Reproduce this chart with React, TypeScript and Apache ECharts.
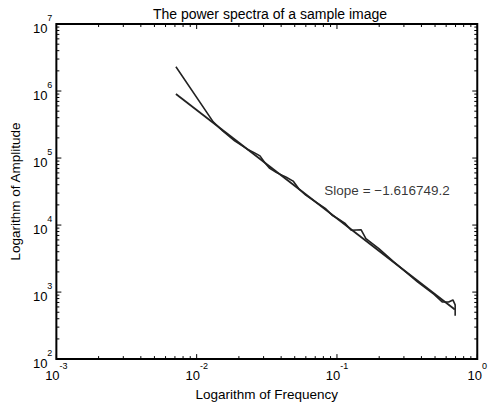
import React, { useEffect, useRef } from "react";
import * as echarts from "echarts";

// Spectrum (frequency, amplitude)
const FREQ = [0.007114, 0.01312, 0.0154, 0.01866, 0.02297, 0.02569, 0.02827, 0.03062, 0.03318, 0.03711, 0.04355, 0.0487, 0.0536, 0.05995, 0.07035, 0.08254, 0.09232, 0.1016, 0.1136, 0.1265, 0.1484, 0.1608, 0.1989, 0.2528, 0.3212, 0.3771, 0.4925, 0.5623, 0.6258, 0.6706, 0.6958, 0.6958];
const AMP = [2.307e6, 3.465e5, 2.512e5, 1.809e5, 1.356e5, 1.204e5, 1.077e5, 8.53e4, 7.01e4, 6.06e4, 5.18e4, 4.53e4, 3.454e4, 2.79e4, 2.224e4, 1.778e4, 1.403e4, 1.246e4, 1.07e4, 8357, 8530, 6290, 4440, 2857, 1871, 1403, 925, 713, 713, 763, 644, 444];

// Fitted straight line
const FIT_FREQ = [0.007114, 0.692];
const FIT_AMP = [9.0e5, 5.5e2];

// Annotation
const SLOPE_TEXT = "Slope = \u22121.616749.2";
const SLOPE_AT = [0.0813, 3.24e4];

// Axes
const X_MIN = 1e-3, X_MAX = 1;
const Y_MIN = 1e2, Y_MAX = 1e7;
const X_DECADES = [-3, -2, -1, 0];
const Y_DECADES = [2, 3, 4, 5, 6, 7];
const MINOR_MULT = [2, 3, 4, 5, 6, 7, 8, 9];

const TITLE = "The power spectra of a sample image";
const X_NAME = "Logarithm of Frequency";
const Y_NAME = "Logarithm of Amplitude";

const FONT = "'Liberation Sans', Arial, Helvetica, sans-serif";

export default function App() {
  const ref = useRef<HTMLDivElement>(null);
  useEffect(() => {
    if (!ref.current) return;
    const chart = echarts.init(ref.current, undefined, { renderer: "svg" });

    // tick items: [xValue, yValue, axis(0=x,1=y), major(1/0)]
    const ticks: number[][] = [];
    X_DECADES.forEach((d, i) => {
      ticks.push([Math.pow(10, d), 1e4, 0, 1]);
      if (i < X_DECADES.length - 1) MINOR_MULT.forEach((m) => ticks.push([m * Math.pow(10, d), 1e4, 0, 0]));
    });
    Y_DECADES.forEach((d, i) => {
      ticks.push([0.01, Math.pow(10, d), 1, 1]);
      if (i < Y_DECADES.length - 1) MINOR_MULT.forEach((m) => ticks.push([0.01, m * Math.pow(10, d), 1, 0]));
    });

    const labelFmt = (v: number) => `{b|10}{s|${Math.round(Math.log10(v))}}`;
    const rich = {
      b: { fontSize: 13, fontFamily: FONT, color: "#000", lineHeight: 21, verticalAlign: "bottom" },
      s: { fontSize: 9, fontFamily: FONT, color: "#000", verticalAlign: "top", lineHeight: 8 },
    };

    chart.setOption({
      animation: false,
      backgroundColor: "#fff",
      title: {
        text: TITLE,
        left: 265,
        top: 2,
        textAlign: "center",
        textStyle: { fontSize: 14, fontWeight: "normal", fontFamily: FONT, color: "#000" },
      },
      grid: { left: 49, right: 9, top: 24, bottom: 42, show: true, borderColor: "#000", borderWidth: 2, backgroundColor: "#fff" },
      xAxis: {
        type: "log",
        logBase: 10,
        min: X_MIN,
        max: X_MAX,
        splitNumber: 3,
        name: X_NAME,
        nameLocation: "middle",
        nameGap: 22,
        nameTextStyle: { fontSize: 13.5, fontFamily: FONT, color: "#000" },
        axisLine: { show: false },
        axisTick: { show: false },
        splitLine: { show: false },
        minorTick: { show: false },
        axisLabel: { formatter: labelFmt, rich, margin: 2 },
      },
      yAxis: {
        type: "log",
        logBase: 10,
        min: Y_MIN,
        max: Y_MAX,
        splitNumber: 5,
        name: Y_NAME,
        nameLocation: "middle",
        nameGap: 30,
        nameTextStyle: { fontSize: 13.5, fontFamily: FONT, color: "#000" },
        axisLine: { show: false },
        axisTick: { show: false },
        splitLine: { show: false },
        minorTick: { show: false },
        axisLabel: { formatter: labelFmt, rich, margin: 4 },
      },
      series: [
        {
          type: "line",
          data: FIT_FREQ.map((f, i) => [f, FIT_AMP[i]]),
          showSymbol: false,
          lineStyle: { color: "#222", width: 1.8 },
          z: 3,
        },
        {
          type: "line",
          data: FREQ.map((f, i) => [f, AMP[i]]),
          showSymbol: false,
          lineStyle: { color: "#222", width: 1.6 },
          z: 3,
        },
        {
          type: "scatter",
          data: [SLOPE_AT],
          symbolSize: 0,
          label: {
            show: true,
            position: "right",
            distance: 0,
            formatter: SLOPE_TEXT,
            fontSize: 13.5,
            fontFamily: FONT,
            color: "#000",
          },
          z: 4,
        },
        {
          type: "custom",
          data: ticks,
          z: 5,
          renderItem: (params: any, api: any) => {
            const cs = params.coordSys;
            const axis = api.value(2);
            const major = api.value(3) === 1;
            const len = major ? 5 : 3;
            const p = api.coord([api.value(0), api.value(1)]);
            const style = { stroke: "#000", lineWidth: 1 };
            if (axis === 0) {
              const x = p[0];
              return {
                type: "group",
                children: [
                  { type: "line", shape: { x1: x, y1: cs.y + cs.height, x2: x, y2: cs.y + cs.height - len }, style },
                  { type: "line", shape: { x1: x, y1: cs.y, x2: x, y2: cs.y + len }, style },
                ],
              };
            }
            const y = p[1];
            return {
              type: "group",
              children: [
                { type: "line", shape: { x1: cs.x, y1: y, x2: cs.x + len, y2: y }, style },
                { type: "line", shape: { x1: cs.x + cs.width, y1: y, x2: cs.x + cs.width - len, y2: y }, style },
              ],
            };
          },
        },
      ],
    });
    return () => chart.dispose();
  }, []);
  return <div ref={ref} style={{ position: "fixed", left: 0, top: 0, width: 490, height: 406 }} />;
}
